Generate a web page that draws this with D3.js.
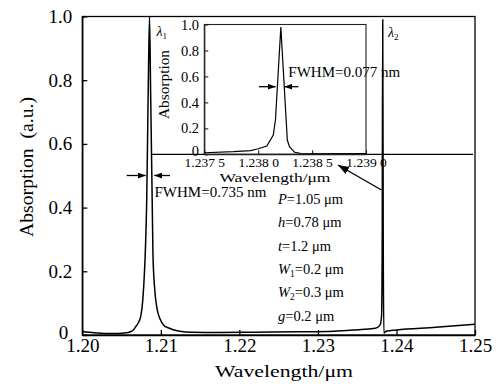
<!DOCTYPE html>
<html>
<head>
<meta charset="utf-8">
<script src="https://cdn.jsdelivr.net/npm/d3@7"></script>
<style>
  body { margin: 0; background: #fff; }
</style>
</head>
<body>
<svg id="chart" width="498" height="390"></svg>
<script>
// main spectrum
const wavelength = [1.2000, 1.2015, 1.2030, 1.2045, 1.2056, 1.2062, 1.2065, 1.2068, 1.2071, 1.20745,
  1.2077, 1.2079, 1.20805, 1.2082, 1.2084, 1.20856, 1.2087, 1.2089, 1.2090, 1.2092,
  1.2095, 1.2099, 1.2104, 1.2110, 1.2124, 1.2140, 1.2175, 1.2220, 1.2275, 1.2320,
  1.2348, 1.2365, 1.2373, 1.2379, 1.2381, 1.23818, 1.23825, 1.23832, 1.2384, 1.2387,
  1.2400, 1.2450, 1.2500];
const absorption = [0.011, 0.007, 0.005, 0.005, 0.007, 0.011, 0.016, 0.026, 0.037, 0.060,
  0.110, 0.190, 0.280, 0.420, 0.780, 1.000, 0.760, 0.420, 0.250, 0.150,
  0.085, 0.050, 0.030, 0.022, 0.012, 0.009, 0.008, 0.009, 0.010, 0.012,
  0.016, 0.019, 0.021, 0.031, 0.058, 0.250, 0.990, 0.250, 0.006, 0.012,
  0.016, 0.024, 0.034];

// inset: zoom on lambda_2
const insetWavelength = [1.2375, 1.23777, 1.23793, 1.23800, 1.23808, 1.23814, 1.23816, 1.23821,
  1.23827, 1.23829, 1.23834, 1.23839, 1.2390];
const insetAbsorption = [0.012, 0.020, 0.028, 0.043, 0.064, 0.148, 0.264, 0.980,
  0.110, 0.058, 0.015, 0.008, 0.006];

const xTicks = [1.20, 1.21, 1.22, 1.23, 1.24, 1.25];
const yTicks = [0, 0.2, 0.4, 0.6, 0.8, 1.0];
const insetXTicks = [1.2375, 1.2380, 1.2385, 1.2390];
const insetXLabels = ["1.237 5", "1.238 0", "1.238 5", "1.239 0"];
const insetYTicks = [0, 0.2, 0.4, 0.6, 0.8, 1.0];

// structure parameters: [variable, subscript, rest]
const params = [
  ["P", "", "=1.05 \u03bcm"],
  ["h", "", "=0.78 \u03bcm"],
  ["t", "", "=1.2 \u03bcm"],
  ["W", "1", "=0.2 \u03bcm"],
  ["W", "2", "=0.3 \u03bcm"],
  ["g", "", "=0.2 \u03bcm"]
];

const FONT = "Liberation Serif";

const svg = d3.select("#chart").attr("font-family", FONT);
svg.append("rect").attr("width", 498).attr("height", 390).attr("fill", "#fff");

const defs = svg.append("defs");
defs.append("marker").attr("id", "head")
  .attr("markerUnits", "userSpaceOnUse")
  .attr("markerWidth", 8).attr("markerHeight", 6)
  .attr("refX", 8).attr("refY", 3).attr("orient", "auto")
  .append("path").attr("d", "M0,0 L8,3 L0,6 Z").attr("fill", "#000");
defs.append("marker").attr("id", "bighead")
  .attr("markerUnits", "userSpaceOnUse")
  .attr("markerWidth", 11).attr("markerHeight", 8)
  .attr("refX", 11).attr("refY", 4).attr("orient", "auto")
  .append("path").attr("d", "M0,0 L11,4 L0,8 Z").attr("fill", "#000");

// ---- main plot ----
const x = d3.scaleLinear().domain([1.20, 1.25]).range([82.3, 475]);
const y = d3.scaleLinear().domain([0, 1]).range([335, 16.5]);
const fmtY = d => d === 0 ? "0" : d3.format(".1f")(d);

const xAxis = svg.append("g").attr("transform", "translate(0,335)")
  .call(d3.axisBottom(x).tickValues(xTicks).tickFormat(d3.format(".2f"))
    .tickSizeInner(-5).tickSizeOuter(0).tickPadding(4));
const yAxis = svg.append("g").attr("transform", "translate(82.3,0)")
  .call(d3.axisLeft(y).tickValues(yTicks).tickFormat(fmtY)
    .tickSizeInner(-5).tickSizeOuter(0).tickPadding(10));
[xAxis, yAxis].forEach(g => {
  g.attr("font-size", 19).attr("font-family", FONT);
  g.selectAll("line, path").attr("stroke", "#000").attr("stroke-width", 1.3);
});
// the "0" label sits a little left and low, clear of 1.20
yAxis.selectAll(".tick text").filter(d => d === 0).attr("x", -14).attr("dy", "0.2em");

svg.append("rect")
  .attr("x", 82.3).attr("y", 16.5).attr("width", 475 - 82.3).attr("height", 335 - 16.5)
  .attr("fill", "none").attr("stroke", "#000").attr("stroke-width", 1.3);

const line = d3.line().x(d => x(d[0])).y(d => y(d[1])).curve(d3.curveMonotoneX);
svg.append("path")
  .datum(d3.zip(wavelength, absorption))
  .attr("d", line)
  .attr("fill", "none").attr("stroke", "#000").attr("stroke-width", 1.5);

svg.append("text")
  .attr("transform", "translate(33,167) rotate(-90)")
  .attr("text-anchor", "middle").attr("font-size", 19)
  .attr("textLength", 140).attr("lengthAdjust", "spacingAndGlyphs")
  .text("Absorption  (a.u.)").style("white-space", "pre");
svg.append("text")
  .attr("x", 284).attr("y", 377)
  .attr("text-anchor", "middle").attr("font-size", 17)
  .attr("textLength", 138).attr("lengthAdjust", "spacingAndGlyphs")
  .text("Wavelength/\u03bcm");

// ---- inset ----
const xi = d3.scaleLinear().domain([1.2375, 1.2390]).range([204.3, 366]);
const yi = d3.scaleLinear().domain([0, 1]).range([154.3, 24.5]);

// long baseline running through the inset axis
svg.append("line")
  .attr("x1", 151).attr("x2", 473).attr("y1", 154.3).attr("y2", 154.3)
  .attr("stroke", "#000").attr("stroke-width", 1.2);

const xiAxis = svg.append("g").attr("transform", "translate(0,154.3)")
  .call(d3.axisBottom(xi).tickValues(insetXTicks).tickFormat((d, i) => insetXLabels[i])
    .tickSizeInner(-4).tickSizeOuter(0).tickPadding(3.5));
const yiAxis = svg.append("g").attr("transform", "translate(204.3,0)")
  .call(d3.axisLeft(yi).tickValues(insetYTicks).tickFormat(fmtY)
    .tickSizeInner(-4).tickSizeOuter(0).tickPadding(5.3));
xiAxis.attr("font-size", 13.5).attr("font-family", FONT);
yiAxis.attr("font-size", 14.5).attr("font-family", FONT);
[xiAxis, yiAxis].forEach(g => g.selectAll("line, path").attr("stroke", "#222").attr("stroke-width", 1.1));
yiAxis.selectAll(".tick text").filter(d => d === 0).attr("dy", "0.1em");

svg.append("rect")
  .attr("x", 204.3).attr("y", 24.5).attr("width", 366 - 204.3).attr("height", 154.3 - 24.5)
  .attr("fill", "none").attr("stroke", "#222").attr("stroke-width", 1.1);

svg.append("path")
  .datum(d3.zip(insetWavelength, insetAbsorption))
  .attr("d", d3.line().x(d => xi(d[0])).y(d => yi(d[1])))
  .attr("fill", "none").attr("stroke", "#000").attr("stroke-width", 1.2);

svg.append("text")
  .attr("transform", "translate(169,84.5) rotate(-90)")
  .attr("text-anchor", "middle").attr("font-size", 14)
  .attr("textLength", 69).attr("lengthAdjust", "spacingAndGlyphs")
  .text("Absorption");
svg.append("text")
  .attr("x", 275).attr("y", 182)
  .attr("text-anchor", "middle").attr("font-size", 13)
  .attr("textLength", 111).attr("lengthAdjust", "spacingAndGlyphs")
  .text("Wavelength/\u03bcm");

// ---- annotations ----
function arrow(x1, y1, x2, y2, marker, w) {
  svg.append("line").attr("x1", x1).attr("y1", y1).attr("x2", x2).attr("y2", y2)
    .attr("stroke", "#000").attr("stroke-width", w || 1.3)
    .attr("marker-end", "url(#" + (marker || "head") + ")");
}
// FWHM of lambda_1
arrow(126.7, 175.5, 145.7, 175.5);
arrow(170, 175.5, 154.3, 175.5);
// FWHM of lambda_2 (inset)
arrow(259, 86.7, 275.7, 86.7);
arrow(298.3, 86.7, 284.3, 86.7);
// pointer from lambda_2 to the inset
arrow(381.5, 190, 338, 165, "bighead", 1.4);

svg.append("text").attr("x", 154.5).attr("y", 197).attr("font-size", 15).text("FWHM=0.735 nm");
svg.append("text").attr("x", 288.3).attr("y", 76.5).attr("font-size", 15).text("FWHM=0.077 nm");

function lambdaLabel(px, py, sub) {
  const t = svg.append("text").attr("x", px).attr("y", py).attr("font-size", 14);
  t.append("tspan").attr("font-style", "italic").text("\u03bb");
  t.append("tspan").attr("font-size", 9).attr("dy", 3).text(sub);
}
lambdaLabel(156.5, 36, "1");
lambdaLabel(388, 37, "2");

params.forEach((p, i) => {
  const t = svg.append("text").attr("x", 278).attr("y", 204 + i * 23.3).attr("font-size", 14.5);
  t.append("tspan").attr("font-style", "italic").text(p[0]);
  if (p[1]) {
    t.append("tspan").attr("font-size", 9.5).attr("dy", 3).text(p[1]);
    t.append("tspan").attr("dy", -3).text(p[2]);
  } else {
    t.append("tspan").text(p[2]);
  }
});
</script>
</body>
</html>
